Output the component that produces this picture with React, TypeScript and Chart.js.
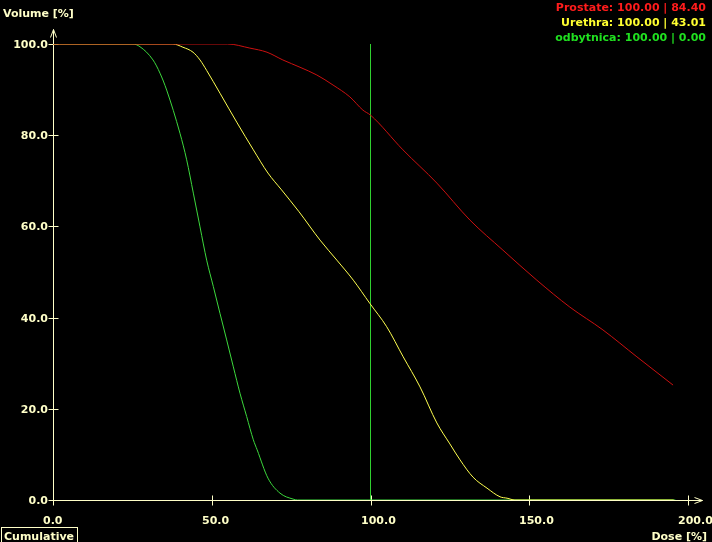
import React, { useEffect, useRef } from "react";
import { Chart, registerables } from "chart.js";

Chart.register(...registerables);

const prostateDose = [0, 55, 62, 67.4, 72.4, 77.8, 83.1, 88.2, 93.5, 97.6, 100, 110.2, 120.9, 131.3, 141.7, 152.4, 162.8, 173.2, 183.9, 195.3];
const prostateVol = [100, 100, 99.1, 98.2, 96.5, 94.9, 93.2, 91.0, 88.4, 85.5, 84.4, 76.8, 69.5, 61.4, 54.8, 48.2, 42.3, 37.3, 31.4, 25.2];

const urethraDose = [0, 37.8, 40.9, 44.1, 46.3, 48.4, 52.6, 58.0, 63.1, 67.7, 72.0, 77.5, 84.1, 89.4, 94.6, 99.8, 105.1, 110.3, 115.6, 120.9, 125.0, 128.2, 132.3, 136.7, 140.8, 143.0, 145.5, 195.5];
const urethraVol = [100, 100, 99.3, 98.2, 96.5, 94.2, 89.2, 82.7, 76.8, 71.7, 68.0, 63.2, 57.0, 52.6, 48.2, 43.1, 38.0, 31.4, 24.8, 16.9, 12.3, 8.8, 5.0, 2.6, 0.7, 0.4, 0, 0];

const rectumDose = [0, 25.2, 27.4, 31.5, 33.7, 35.8, 40.0, 42.1, 44.2, 46.3, 48.4, 50.5, 52.6, 54.7, 56.8, 58.9, 61.0, 63.1, 64.3, 67.7, 71.5, 75.6, 77.0, 196.0];
const rectumVol = [100, 100, 99.4, 96.5, 93.6, 89.9, 80.4, 74.6, 67.3, 59.9, 52.6, 46.8, 40.9, 35.1, 29.2, 23.4, 18.3, 13.2, 11.0, 4.8, 1.5, 0.2, 0, 0];

const markerDose = [100, 100];
const markerVol = [0, 100.4];

const xTicks = [0, 50, 100, 150, 200];
const yTicks = [0, 20, 40, 60, 80, 100];

const legendLines = [
  { text: "Prostate: 100.00 | 84.40", color: "#ff1c1c" },
  { text: "Urethra: 100.00 | 43.01", color: "#ffff30" },
  { text: "odbytnica: 100.00 | 0.00", color: "#20e020" },
];

const AXIS = "#ffffc8";
const FONT = "bold 11px 'DejaVu Sans'";

const pts = (xs: number[], ys: number[]) => xs.map((x, i) => ({ x, y: ys[i] }));

const decor = {
  id: "decor",
  beforeDatasetsDraw(chart: any) {
    const ctx = chart.ctx;
    const xs = chart.scales.x;
    const ys = chart.scales.y;
    const x0 = Math.round(xs.getPixelForValue(0)) + 0.5;
    const y0 = Math.round(ys.getPixelForValue(0)) + 0.5;
    ctx.save();
    ctx.strokeStyle = AXIS;
    ctx.lineWidth = 1;
    ctx.beginPath();
    ctx.moveTo(x0, y0);
    ctx.lineTo(x0, 29.5);
    ctx.moveTo(x0 - 3, 37.5);
    ctx.lineTo(x0, 29.5);
    ctx.lineTo(x0 + 3, 37.5);
    ctx.moveTo(x0, y0);
    ctx.lineTo(702.5, y0);
    ctx.moveTo(694.5, y0 - 3);
    ctx.lineTo(702.5, y0);
    ctx.lineTo(694.5, y0 + 3);
    yTicks.forEach((v) => {
      const y = Math.round(ys.getPixelForValue(v)) + 0.5;
      ctx.moveTo(x0 - 5, y);
      ctx.lineTo(x0 + 5, y);
    });
    xTicks.forEach((v) => {
      const x = Math.round(xs.getPixelForValue(v)) + 0.5;
      ctx.moveTo(x, y0 - 5);
      ctx.lineTo(x, y0 + 5);
    });
    ctx.stroke();
    ctx.restore();
  },
  afterDraw(chart: any) {
    const ctx = chart.ctx;
    const xs = chart.scales.x;
    const ys = chart.scales.y;
    const x0 = xs.getPixelForValue(0);
    ctx.save();
    ctx.font = FONT;
    ctx.fillStyle = AXIS;
    ctx.textBaseline = "alphabetic";
    ctx.textAlign = "right";
    yTicks.forEach((v) => {
      const y = Math.round(ys.getPixelForValue(v));
      ctx.fillText(v.toFixed(1), x0 - 5, y + 4);
    });
    ctx.textAlign = "left";
    xTicks.forEach((v) => {
      const x = Math.round(xs.getPixelForValue(v));
      ctx.fillText(v.toFixed(1), x - 10, 524);
    });
    ctx.fillText("Volume [%]", 3, 17);
    ctx.textAlign = "right";
    ctx.fillText("Dose [%]", 707, 540);
    ctx.textAlign = "left";
    ctx.fillText("Cumulative", 4, 540);
    ctx.strokeStyle = AXIS;
    ctx.lineWidth = 1;
    ctx.strokeRect(1.5, 527.5, 76, 15);
    ctx.textAlign = "right";
    legendLines.forEach((l, i) => {
      ctx.fillStyle = l.color;
      ctx.fillText(l.text, 706, 11 + i * 15);
    });
    ctx.restore();
  },
};

export default function App() {
  const ref = useRef<HTMLCanvasElement>(null);
  useEffect(() => {
    if (!ref.current) return;
    const common = { showLine: true, pointRadius: 0, borderWidth: 1, cubicInterpolationMode: "monotone" as const };
    const chart = new Chart(ref.current, {
      type: "scatter",
      data: {
        datasets: [
          { label: "Prostate", data: pts(prostateDose, prostateVol), borderColor: "#cc1010", ...common },
          { label: "Urethra", data: pts(urethraDose, urethraVol), borderColor: "#ffff50", ...common },
          { label: "odbytnica", data: pts(rectumDose, rectumVol), borderColor: "#3cd83c", ...common },
          { label: "marker", data: pts(markerDose, markerVol), borderColor: "#30d030", showLine: true, pointRadius: 0, borderWidth: 1 },
        ],
      },
      options: {
        animation: false,
        responsive: false,
        devicePixelRatio: 1,
        layout: { padding: { left: 53, top: 44, right: 24, bottom: 42 } },
        scales: {
          x: { type: "linear", min: 0, max: 200, display: false },
          y: { type: "linear", min: 0, max: 100, display: false },
        },
        plugins: { legend: { display: false }, tooltip: { enabled: false } },
      },
      plugins: [decor],
    });
    return () => chart.destroy();
  }, []);
  return (
    <div style={{ position: "fixed", left: 0, top: 0, width: 712, height: 542, background: "#000" }}>
      <canvas ref={ref} width={712} height={542} style={{ display: "block" }} />
    </div>
  );
}
